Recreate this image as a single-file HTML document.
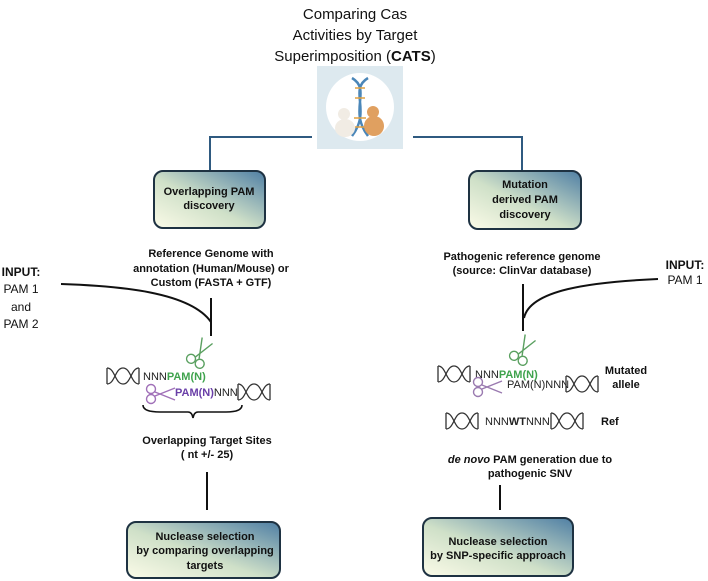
<!DOCTYPE html>
<html><head><meta charset="utf-8"><style>
html,body{margin:0;padding:0;background:#fff;}
svg{display:block;font-family:"Liberation Sans",sans-serif;}
.b{font-weight:bold;font-size:11px;fill:#111;}
.n{font-size:11px;fill:#222;}
</style></head><body>
<svg width="708" height="581" viewBox="0 0 708 581" xmlns="http://www.w3.org/2000/svg">
<defs>
<linearGradient id="g" x1="0" y1="1" x2="1" y2="0">
<stop offset="0" stop-color="#fbfbe8"/><stop offset="0.45" stop-color="#cfe0c8"/><stop offset="1" stop-color="#4f7fa4"/>
</linearGradient>
<g id="hx" fill="none" stroke="#333" stroke-width="1.3">
<path d="M0,-8 C8,-8 8,8 16,8 C24,8 24,-8 32,-8"/>
<path d="M0,8 C8,8 8,-8 16,-8 C24,-8 24,8 32,8"/>
<line x1="0" y1="-8" x2="0" y2="8"/><line x1="32" y1="-8" x2="32" y2="8"/>
</g>
<g id="sc" fill="none" stroke-width="1.4">
<circle cx="-9" cy="-4" r="4.5"/><circle cx="-9" cy="6" r="4.5"/>
<path d="M-5,-1 L15,7 M-5,3 L15,-5"/>
</g>
</defs>
<g font-size="15" fill="#111" text-anchor="middle">
<text x="355" y="19">Comparing Cas</text>
<text x="355" y="40">Activities by Target</text>
<text x="355" y="61">Superimposition (<tspan font-weight="bold">CATS</tspan>)</text>
</g>
<rect x="317" y="66" width="86" height="83" fill="#dde9ef"/>
<circle cx="360" cy="107" r="34" fill="#fff"/>
<path d="M352,78 C372,90 348,110 368,136 M368,78 C348,90 372,110 352,136" stroke="#4a86b8" stroke-width="2.5" fill="none"/>
<path d="M355,88 H365 M355,98 H365 M354,118 H366 M355,127 H365" stroke="#e0a040" stroke-width="1.5"/>
<ellipse cx="345" cy="128" rx="10" ry="9" fill="#f1ece4"/>
<circle cx="344" cy="114" r="6" fill="#f1ece4"/>
<ellipse cx="374" cy="126" rx="10" ry="10" fill="#e0a060"/>
<circle cx="373" cy="112" r="6" fill="#e0a060"/>
<path d="M312,137 H210 V170" stroke="#2f5a80" stroke-width="2" fill="none"/>
<path d="M413,137 H522 V170" stroke="#2f5a80" stroke-width="2" fill="none"/>
<rect x="154" y="171" width="111" height="57" rx="9" fill="url(#g)" stroke="#1e3242" stroke-width="2"/>
<text class="b" text-anchor="middle"><tspan x="209" y="195">Overlapping PAM</tspan><tspan x="209" y="209">discovery</tspan></text>
<rect x="469" y="171" width="112" height="58" rx="9" fill="url(#g)" stroke="#1e3242" stroke-width="2"/>
<text class="b" text-anchor="middle"><tspan x="525" y="188">Mutation</tspan><tspan x="525" y="203">derived PAM</tspan><tspan x="525" y="218">discovery</tspan></text>
<rect x="127" y="522" width="153" height="56" rx="9" fill="url(#g)" stroke="#1e3242" stroke-width="2"/>
<text class="b" text-anchor="middle"><tspan x="205" y="540">Nuclease selection</tspan><tspan x="205" y="554">by comparing overlapping</tspan><tspan x="205" y="569">targets</tspan></text>
<rect x="423" y="518" width="150" height="58" rx="9" fill="url(#g)" stroke="#1e3242" stroke-width="2"/>
<text class="b" text-anchor="middle"><tspan x="498" y="545">Nuclease selection</tspan><tspan x="498" y="559">by SNP-specific approach</tspan></text>
<text class="b" text-anchor="middle"><tspan x="211" y="257">Reference Genome with</tspan><tspan x="211" y="272">annotation (Human/Mouse) or</tspan><tspan x="211" y="286">Custom (FASTA + GTF)</tspan></text>
<text font-size="12" fill="#111" text-anchor="middle"><tspan x="21" y="276" font-weight="bold">INPUT:</tspan><tspan x="21" y="293">PAM 1</tspan><tspan x="21" y="311">and</tspan><tspan x="21" y="328">PAM 2</tspan></text>
<path d="M61,284 C120,286 190,292 211,322" stroke="#111" stroke-width="2" fill="none"/>
<line x1="211" y1="298" x2="211" y2="336" stroke="#111" stroke-width="2"/>
<use href="#hx" x="107" y="376"/>
<text x="143" y="380" class="n">NNN<tspan fill="#3fa34d" font-weight="bold">PAM(N)</tspan></text>
<use href="#sc" stroke="#5aa060" transform="translate(199,353) rotate(-60)"/>
<use href="#sc" stroke="#a070b8" transform="translate(160,393)"/>
<text x="175" y="396" class="n"><tspan fill="#6a3fa8" font-weight="bold">PAM(N)</tspan>NNN</text>
<use href="#hx" x="238" y="392"/>
<path d="M143,405 Q143,412 160,412 L188,412 Q192,412 193,418 Q194,412 198,412 L226,412 Q242,412 242,405" stroke="#111" stroke-width="1.6" fill="none"/>
<text class="b" text-anchor="middle"><tspan x="207" y="444">Overlapping Target Sites</tspan><tspan x="207" y="458">( nt +/- 25)</tspan></text>
<line x1="207" y1="472" x2="207" y2="510" stroke="#111" stroke-width="2"/>
<text class="b" text-anchor="middle"><tspan x="522" y="260">Pathogenic reference genome</tspan><tspan x="522" y="274">(source: ClinVar database)</tspan></text>
<text font-size="12" fill="#111" text-anchor="middle"><tspan x="685" y="269" font-weight="bold">INPUT:</tspan><tspan x="685" y="284">PAM 1</tspan></text>
<path d="M658,279 C590,282 530,290 524,318" stroke="#111" stroke-width="2" fill="none"/>
<line x1="523" y1="284" x2="523" y2="331" stroke="#111" stroke-width="2"/>
<use href="#hx" x="438" y="374"/>
<text x="475" y="378" class="n">NNN<tspan fill="#3fa34d" font-weight="bold">PAM(N)</tspan></text>
<use href="#sc" stroke="#5aa060" transform="translate(522,350) rotate(-60)"/>
<use href="#sc" stroke="#9a7ab0" transform="translate(487,386)"/>
<text x="507" y="388" class="n" fill="#777">PAM(N)NNN</text>
<use href="#hx" x="566" y="384"/>
<text class="b" text-anchor="middle"><tspan x="626" y="374">Mutated</tspan><tspan x="626" y="388">allele</tspan></text>
<use href="#hx" x="446" y="421"/>
<text x="485" y="425" class="n" font-size="10.5">NNN<tspan font-weight="bold">WT</tspan>NNN</text>
<use href="#hx" x="551" y="421"/>
<text x="601" y="425" class="b">Ref</text>
<text class="b" text-anchor="middle"><tspan x="530" y="463"><tspan font-style="italic">de novo</tspan> PAM generation due to</tspan><tspan x="530" y="477">pathogenic SNV</tspan></text>
<line x1="500" y1="485" x2="500" y2="510" stroke="#111" stroke-width="2"/>
</svg>
</body></html>
